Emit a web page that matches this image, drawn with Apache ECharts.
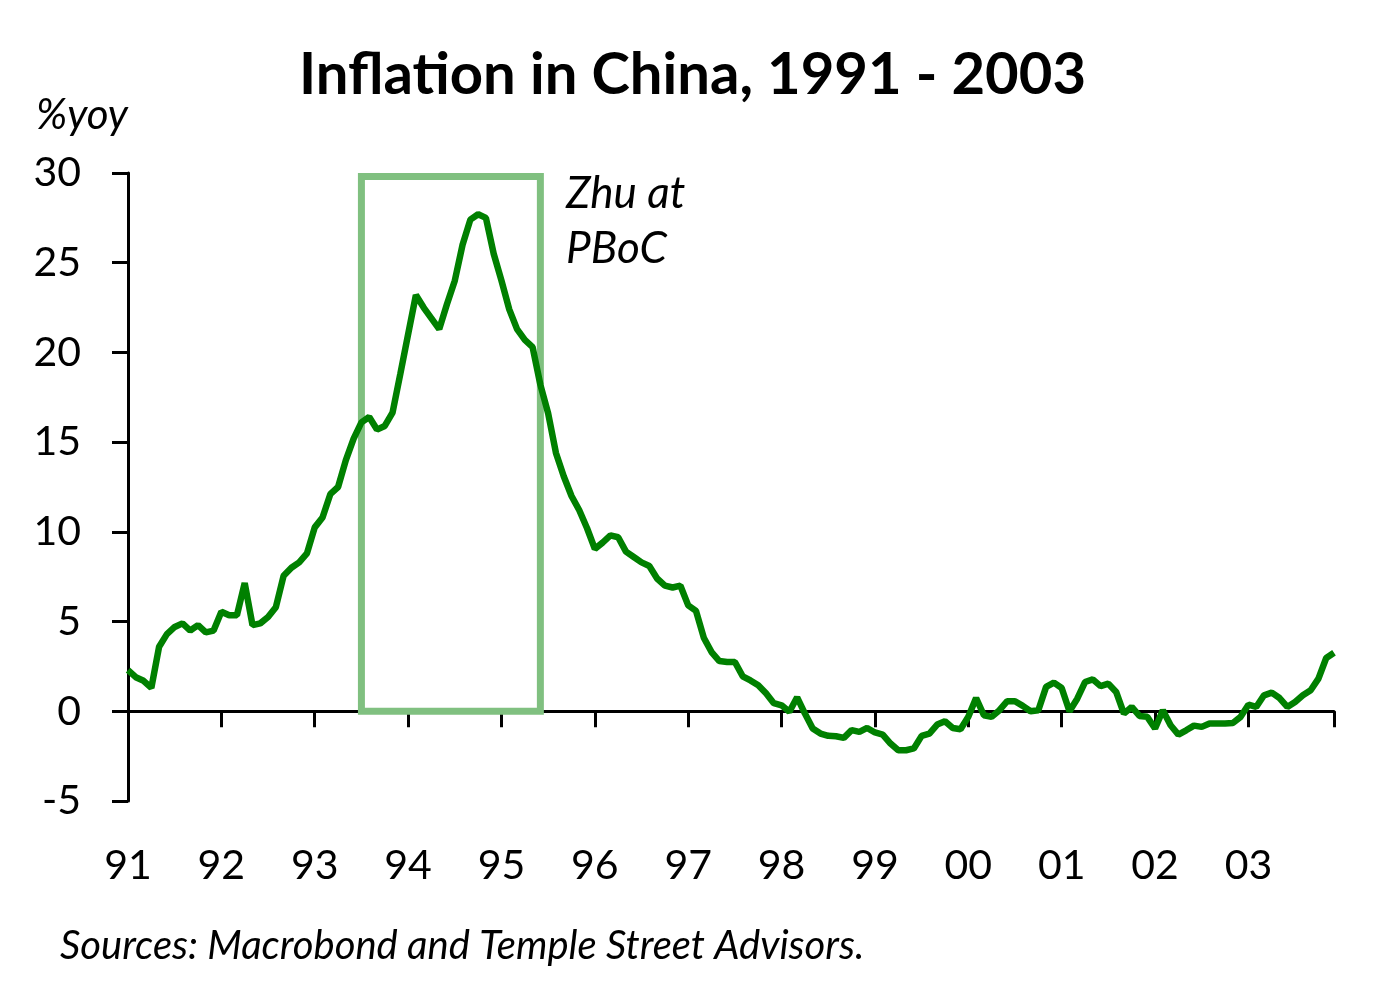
<!DOCTYPE html>
<html>
<head>
<meta charset="utf-8">
<script src="https://cdn.jsdelivr.net/npm/echarts@6/dist/echarts.min.js"></script>
<style>
  html, body { margin: 0; padding: 0; background: #fff; }
  #container { width: 1385px; height: 990px; }
</style>
</head>
<body>
<div id="container"></div>
<script>
// tick labels on the x axis, one per year
var yearLabels = ['91', '92', '93', '94', '95', '96', '97', '98', '99', '00', '01', '02', '03'];
// y axis
var yMin = -5, yMax = 30, yStep = 5;
// monthly CPI inflation, %yoy, Jan 1991 - Dec 2003
var inflation = [
    2.3, 1.9, 1.7, 1.3, 3.6, 4.3, 4.7, 4.9, 4.5, 4.8, 4.4, 4.5,
    5.55, 5.35, 5.35, 7.15, 4.8, 4.9, 5.25, 5.8, 7.55, 8.0, 8.3, 8.8,
    10.25, 10.8, 12.1, 12.5, 14.0, 15.2, 16.1, 16.4, 15.7, 15.9, 16.65, 18.8,
    21.0, 23.2, 22.5, 21.9, 21.3, 22.7, 24.0, 26.0, 27.4, 27.7, 27.5, 25.5,
    24.0, 22.4, 21.3, 20.7, 20.3, 18.2, 16.6, 14.4, 13.1, 12.0, 11.2, 10.2,
    9.05, 9.4, 9.8, 9.7, 8.9, 8.6, 8.3, 8.1, 7.4, 7.0, 6.9, 7.0,
    5.9, 5.6, 4.1, 3.3, 2.8, 2.75, 2.75, 1.95, 1.72, 1.45, 1.0, 0.45,
    0.33, -0.03, 0.78, -0.13, -0.96, -1.24, -1.37, -1.39, -1.48, -1.05, -1.15, -0.93,
    -1.18, -1.3, -1.8, -2.17, -2.17, -2.07, -1.37, -1.24, -0.74, -0.56, -0.93, -1.0,
    -0.31, 0.74, -0.22, -0.31, 0.06, 0.56, 0.56, 0.3, 0.0, 0.06, 1.36, 1.6,
    1.3, 0.0, 0.7, 1.63, 1.78, 1.4, 1.54, 1.08, -0.13, 0.24, -0.26, -0.31,
    -0.96, 0.06, -0.78, -1.3, -1.06, -0.8, -0.87, -0.68, -0.68, -0.68, -0.65, -0.31,
    0.37, 0.24, 0.89, 1.04, 0.74, 0.24, 0.52, 0.89, 1.17, 1.82, 2.97, 3.26
];
// the "Zhu at PBoC" box: from Jul 1993 to Jun 1995
var boxStart = 30, boxEnd = 53, boxTop = 29.8;

var months = [];
for (var y = 0; y < yearLabels.length; y++) {
    for (var m = 1; m <= 12; m++) {
        months.push((1991 + y) + '-' + (m < 10 ? '0' + m : m));
    }
}

var font = 'Lato, "Open Sans", sans-serif';
var dom = document.getElementById('container');
var myChart = echarts.init(dom, null, {renderer: 'canvas'});
var option = {
    backgroundColor: '#fff',
    animation: false,
    title: [
        {
            text: 'Inflation in China, 1991 - 2003',
            left: 'center',
            top: 41,
            textStyle: {fontFamily: font, fontSize: 58, fontWeight: 'bold', color: '#000'}
        },
        {
            text: 'Sources: Macrobond and Temple Street Advisors.',
            left: 55,
            top: 921,
            textStyle: {fontFamily: font, fontSize: 40, fontStyle: 'italic', fontWeight: 'normal', color: '#000'}
        }
    ],
    grid: {left: 128, right: 51, top: 173, bottom: 189, containLabel: false},
    xAxis: [
        {
            // line at zero with the year ticks
            type: 'category',
            data: months,
            boundaryGap: false,
            position: 'bottom',
            axisLine: {onZero: true, lineStyle: {color: '#000', width: 3}},
            axisTick: {
                show: true,
                length: 16,
                lineStyle: {color: '#000', width: 3},
                interval: function (index) { return index % 12 === 0 || index === months.length - 1; }
            },
            axisLabel: {show: false},
            splitLine: {show: false}
        },
        {
            // year labels below the plot
            type: 'category',
            data: months,
            boundaryGap: false,
            position: 'bottom',
            axisLine: {show: false, onZero: false},
            axisTick: {show: false},
            axisLabel: {
                show: true,
                margin: 44,
                fontFamily: font,
                fontSize: 41,
                color: '#000',
                interval: function (index) { return index % 12 === 0; },
                formatter: function (value, index) { return yearLabels[Math.floor(index / 12)]; }
            },
            splitLine: {show: false}
        }
    ],
    yAxis: {
        type: 'value',
        min: yMin,
        max: yMax,
        interval: yStep,
        name: '%yoy',
        nameLocation: 'end',
        nameGap: 37,
        nameTextStyle: {fontFamily: font, fontSize: 42, fontStyle: 'italic', color: '#000', align: 'right'},
        axisLine: {show: true, lineStyle: {color: '#000', width: 3}},
        axisTick: {show: true, length: 16, lineStyle: {color: '#000', width: 3}},
        axisLabel: {margin: 47, fontFamily: font, fontSize: 41, color: '#000'},
        splitLine: {show: false}
    },
    graphic: [
        {
            type: 'text',
            left: 566,
            top: 166,
            style: {
                text: 'Zhu at\nPBoC',
                font: 'italic 44px ' + font,
                lineHeight: 55,
                fill: '#000'
            }
        }
    ],
    series: [
        {
            name: 'CPI',
            type: 'line',
            data: inflation,
            showSymbol: false,
            lineStyle: {color: '#008000', width: 6.5},
            itemStyle: {color: '#008000'},
            markArea: {
                silent: true,
                itemStyle: {color: 'rgba(0,0,0,0)', borderColor: '#80c080', borderWidth: 7},
                data: [[
                    {xAxis: months[boxStart], yAxis: 0},
                    {xAxis: months[boxEnd], yAxis: boxTop}
                ]]
            }
        }
    ]
};
if (option && typeof option === "object") {
    myChart.setOption(option, true);
}
</script>
</body>
</html>
